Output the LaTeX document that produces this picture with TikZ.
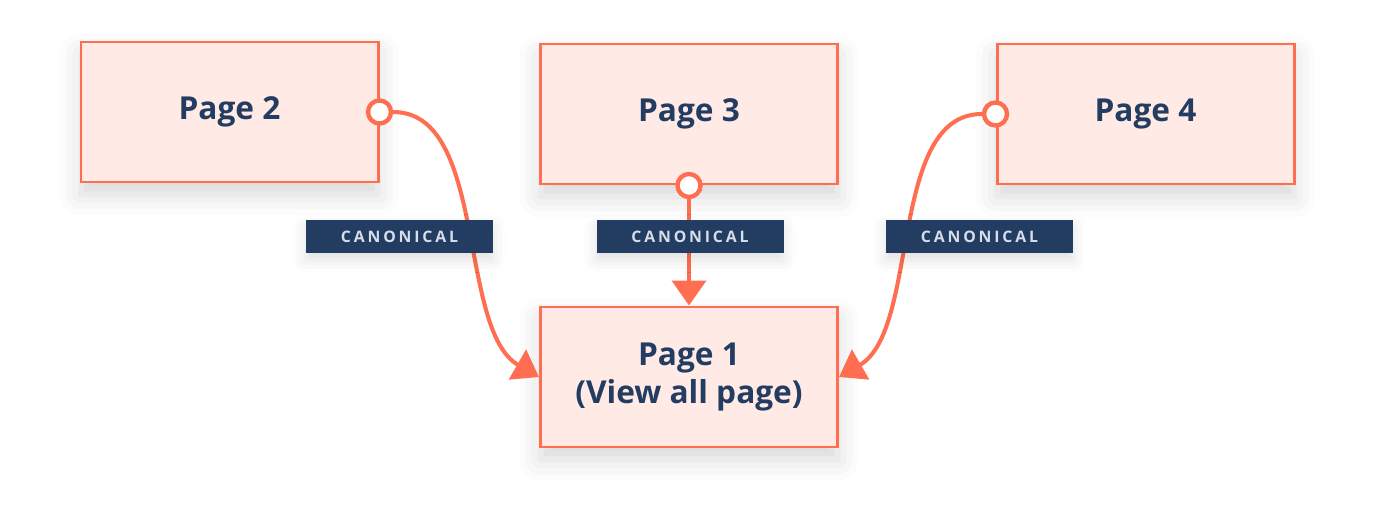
\documentclass[tikz,border=0pt]{standalone}
\usepackage{fontspec}
\setmainfont{Open Sans}
\usetikzlibrary{arrows.meta,shadows.blur}
\definecolor{coral}{HTML}{FF6E50}
\definecolor{blush}{HTML}{FFEAE5}
\definecolor{navy}{HTML}{233C62}
\definecolor{pale}{HTML}{D6DDEB}
\begin{document}
\begin{tikzpicture}[
        page/.style = {rectangle, draw=coral, fill=blush, line width=1.7pt, minimum width=5.94cm, minimum height=2.8cm, align=center, text=navy, font=\fontsize{18}{22}\selectfont\bfseries,
            blur shadow={shadow xshift=0pt, shadow yshift=-7pt, shadow opacity=16, shadow blur radius=12pt}},
        tag/.style = {rectangle, fill=navy, text=pale, minimum width=3.74cm, minimum height=0.66cm, inner sep=0pt, font=\fontsize{9}{11}\selectfont\bfseries\addfontfeatures{LetterSpace=18},
            blur shadow={shadow xshift=0pt, shadow yshift=-4pt, shadow opacity=12, shadow blur radius=7pt}},
        port/.style = {circle, draw=coral, fill=white, line width=2.5pt, minimum size=0.46cm, inner sep=0pt},
        link/.style = {draw=coral, line width=2.3pt, -{Triangle[length=0.5cm, width=0.68cm]}}
    ]
    \useasboundingbox (0,0) rectangle (27.52,10.24);

    % ================= PAGES =================
    \node[page] (p2) at (4.59, 8.00) {Page 2};
    \node[page] (p3) at (13.78, 7.96) {Page 3};
    \node[page] (p4) at (22.91, 7.96) {Page 4};
    \node[page] (p1) at (13.78, 2.70) {Page 1 \\ (View all page)};

    % ================= CANONICAL LINKS =================
    \node[port] (c2) at (p2.east) {};
    \node[port] (c3) at (p3.south) {};
    \node[port] (c4) at (p4.west) {};
    %
    \draw[link] (c2.east) to[out=0, in=150, looseness=0.8] (p1.west);
    \draw[link] (c3.south) -- (p1.north);
    \draw[link] (c4.west) to[out=180, in=30, looseness=0.8] (p1.east);

    % Etiquetas
    \node[tag] (t2) at (7.99, 5.51) {CANONICAL};
    \node[tag] (t3) at (13.80, 5.51) {CANONICAL};
    \node[tag] (t4) at (19.59, 5.51) {CANONICAL};

    \end{tikzpicture}
\end{document}
